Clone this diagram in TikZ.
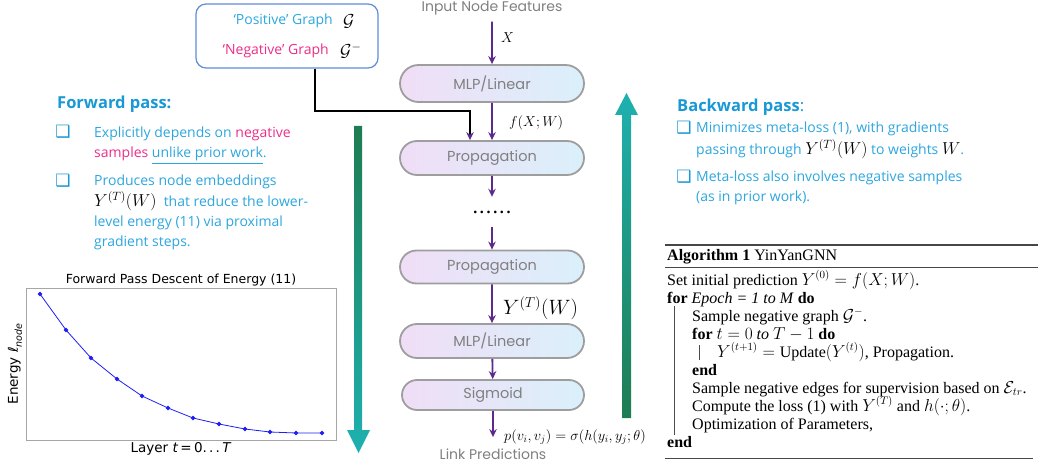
\documentclass[tikz,border=0pt]{standalone}
\usepackage{fontspec}
\usepackage{amsmath}
\usetikzlibrary{arrows.meta,shapes.misc,calc}
\setmainfont{Liberation Serif}
\newfontfamily\uifont{Open Sans}
\newfontfamily\boxfont{Poppins}
\newfontfamily\plotfont{DejaVu Sans}
\newfontfamily\symfont{DejaVu Sans}
\definecolor{headblue}{RGB}{24,152,212}
\definecolor{txtblue}{RGB}{44,166,222}
\definecolor{negpink}{RGB}{236,45,138}
\definecolor{frameblue}{RGB}{96,138,218}
\definecolor{flowpurple}{RGB}{92,42,140}
\definecolor{pillL}{RGB}{240,222,246}
\definecolor{pillR}{RGB}{218,240,250}
\definecolor{pillgray}{RGB}{158,158,158}
\definecolor{labelgray}{RGB}{128,128,128}
\definecolor{passgreen}{RGB}{30,124,82}
\definecolor{passteal}{RGB}{30,177,176}
\definecolor{rulegray}{RGB}{70,70,70}
\definecolor{curveblue}{RGB}{30,30,245}
\newcommand{\fs}[1]{\fontsize{#1}{#1}\selectfont}
\begin{document}
\begin{tikzpicture}[x=1pt,y=-1pt,
  pill/.style={rounded rectangle, draw=pillgray, line width=1.8pt,
    left color=pillL, right color=pillR, minimum width=184pt,
    font=\boxfont\fs{14.5}, text=labelgray, inner sep=0pt},
  flow/.style={draw=flowpurple, line width=1.8pt, -{Stealth[length=8pt,width=7.5pt]}},
  iolabel/.style={font=\boxfont\fs{14}, text=labelgray},
  bodytxt/.style={anchor=base west, inner sep=0pt, font=\uifont\fs{14}, text=txtblue},
  headtxt/.style={anchor=base west, inner sep=0pt, font=\uifont\bfseries\fs{16.5}, text=headblue},
  bul/.style={inner sep=0pt, font=\symfont\fs{17}, text=headblue},
  algline/.style={anchor=base west, inner sep=0pt, font=\fs{16},
    text height=11pt, text depth=3pt},
  plottxt/.style={font=\plotfont\fs{13.5}, inner sep=0pt}]
\useasboundingbox (0,0) rectangle (1038,470);

% ---------- graph inputs box ----------
\node[draw=frameblue, line width=1.2pt, rounded corners=10pt,
  minimum width=182pt, minimum height=64pt] (gbox) at (287,36) {};
\node[anchor=east, font=\uifont\fs{14}, text=txtblue, inner sep=0pt] (posg) at (333,21) {‘Positive’ Graph};
\node[anchor=east, font=\uifont\fs{14}, text=negpink, inner sep=0pt] (negg) at (329,51) {‘Negative’ Graph};
\node[anchor=west, font=\fs{17}, inner sep=0pt] (posm) at (343,21) {$\mathcal{G}$};
\node[anchor=west, font=\fs{17}, inner sep=0pt] (negm) at (340,51) {$\mathcal{G}^{-}$};

% ---------- central pipeline ----------
\node[iolabel] (inp) at (492,8) {Input Node Features};
\node[pill, minimum height=37pt] (mlp1) at (492,83.5) {MLP/Linear};
\node[pill, minimum height=34pt] (prop1) at (492,158) {Propagation};
\node[font=\bfseries\fs{16}, inner sep=0pt, minimum height=30pt] (dots) at (492,212) {.\,.\,.\,.\,.\,.};
\node[pill, minimum height=33pt] (prop2) at (492,267) {Propagation};
\node[pill, minimum height=34pt] (mlp2) at (492,341) {MLP/Linear};
\node[pill, minimum height=30pt, minimum width=182pt] (sig) at (493,395) {Sigmoid};
\node[iolabel] (out) at (493,454) {Link Predictions};

\draw[flow, shorten <=3pt] (inp) -- (mlp1);
\draw[flow] (mlp1) -- (prop1);
\draw[flow] (prop1) -- (dots);
\draw[flow] (dots) -- (prop2);
\draw[flow] (prop2) -- (mlp2);
\draw[flow] (mlp2) -- (sig);
\draw[flow, shorten >=8pt] (sig) -- (out);

\node[anchor=west, inner sep=0pt, font=\fs{14}] (xlab) at (501,38) {$X$};
\node[anchor=west, inner sep=0pt, font=\fs{15}] (flab) at (509,123) {$f(X;W)$};
\node[anchor=west, inner sep=0pt, font=\fs{22}] (ylab) at (503,308) {$Y^{(T)}(W)$};
\node[anchor=west, inner sep=0pt, font=\fs{14}] (plab) at (504,437) {$p(v_i,v_j)=\sigma(h(y_i,y_j;\theta)$};

% graphs feed into the first propagation
\draw[line width=2pt, -{Stealth[length=8pt,width=7.5pt,color=flowpurple]}]
  ([xshift=28pt]gbox.south) |- ([xshift=-22pt,yshift=29pt]prop1.north)
  -- ([xshift=-22pt]prop1.north);

% ---------- forward / backward arrows ----------
\shade[top color=passgreen, bottom color=passteal]
  (354,126) -- (362,126) -- (362,430) -- (370,430) -- (358.5,453)
  -- (347,430) -- (354,430) -- cycle;
\shade[top color=passteal, bottom color=passgreen]
  (626.5,93) -- (638,115) -- (631,115) -- (631,418) -- (622,418)
  -- (622,115) -- (615,115) -- cycle;

% ---------- forward pass notes ----------
\node[headtxt] (fwdhead) at (57,109) {Forward pass:};
\node[bul] (fb1) at (63,132) {❑};
\node[bul] (fb2) at (63,181) {❑};
\node[bodytxt] (f1) at (94,138) {Explicitly depends on \textcolor{negpink}{negative}};
\node[bodytxt] (f2) at (94,158) {\textcolor{negpink}{samples} \underline{unlike prior work}.};
\node[bodytxt] (f3) at (94,186) {Produces node embeddings};
\node[bodytxt] (f4) at (94,207) {{\color{black}\fs{17}$Y^{(T)}(W)$}\ \ that reduce the lower-};
\node[bodytxt] (f5) at (94,227) {level energy (11) via proximal};
\node[bodytxt] (f6) at (94,247) {gradient steps.};

% ---------- energy descent plot ----------
\node[plottxt, font=\plotfont\fs{12.5}] (ptitle) at (181,280) {Forward Pass Descent of Energy (11)};
\node[draw=black!35, line width=1pt, minimum width=310pt, minimum height=152pt,
  inner sep=0pt, anchor=north west] (pframe) at (26,288) {};
\draw[curveblue, line width=0.8pt, mark=*, mark size=1.7pt,
  mark options={fill=curveblue, draw=curveblue}]
  plot coordinates {(40,294) (66,330) (91,358) (117,379) (142,396) (168,408)
    (193,418) (219,424) (245,429) (270,432) (296,433) (322,433)};
\node[plottxt] (pxlab) at (181,449) {Layer \textit{t}\,=\,0.\,.\,.\,\textit{T}};
\node[plottxt, rotate=90] (pylab) at (15,364) {Energy \textit{ℓ}\raisebox{-0.3em}{\fs{9.5}\itshape node}};

% ---------- backward pass notes ----------
\node[headtxt] (bwdhead) at (677,112) {Backward pass\mdseries:};
\node[bul] (bb1) at (684,128) {❑};
\node[bul] (bb2) at (684,177) {❑};
\node[bodytxt] (b1) at (696,133) {Minimizes meta-loss (1), with gradients};
\node[bodytxt] (b2) at (696,155) {passing through {\color{black}\fs{17}$Y^{(T)}(W)$} to weights {\color{black}\fs{17}$W$}.};
\node[bodytxt] (b3) at (696,182) {Meta-loss also involves negative samples};
\node[bodytxt] (b4) at (696,202) {(as in prior work).};

% ---------- algorithm ----------
\draw[rulegray, line width=1.4pt] (665,245) -- (1038,245);
\draw[rulegray, line width=0.8pt] (665,267) -- (1038,267);
\draw[rulegray, line width=0.8pt] (665,458) -- (1033,458);
\node[algline] (a0) at (667,261) {\textbf{Algorithm 1} YinYanGNN};
\node[algline] (a1) at (667,285) {Set initial prediction $Y^{(0)}=f(X;W)$.};
\node[algline] (a2) at (667,303) {\textbf{for} \textit{Epoch = 1 to M} \textbf{do}};
\node[algline] (a3) at (692,321) {Sample negative graph $\mathcal{G}^{-}$.};
\node[algline] (a4) at (692,339) {\textbf{for} $t=0$ \textit{to} $T-1$ \textbf{do}};
\node[algline] (a5) at (717,357) {$Y^{(t+1)}=\mathrm{Update}(Y^{(t)})$, Propagation.};
\node[algline] (a6) at (692,375) {\textbf{end}};
\node[algline] (a7) at (692,393) {Sample negative edges for supervision based on $\mathcal{E}_{tr}$.};
\node[algline] (a8) at (692,411) {Compute the loss (1) with $Y^{(T)}$ and $h(\cdot;\theta)$.};
\node[algline] (a9) at (692,429) {Optimization of Parameters,};
\node[algline] (a10) at (667,447) {\textbf{end}};
\draw[black!70, line width=0.6pt] (674,306) -- (674,435);
\draw[black!70, line width=0.6pt] (699,345) -- (699,360);
\end{tikzpicture}
\end{document}
